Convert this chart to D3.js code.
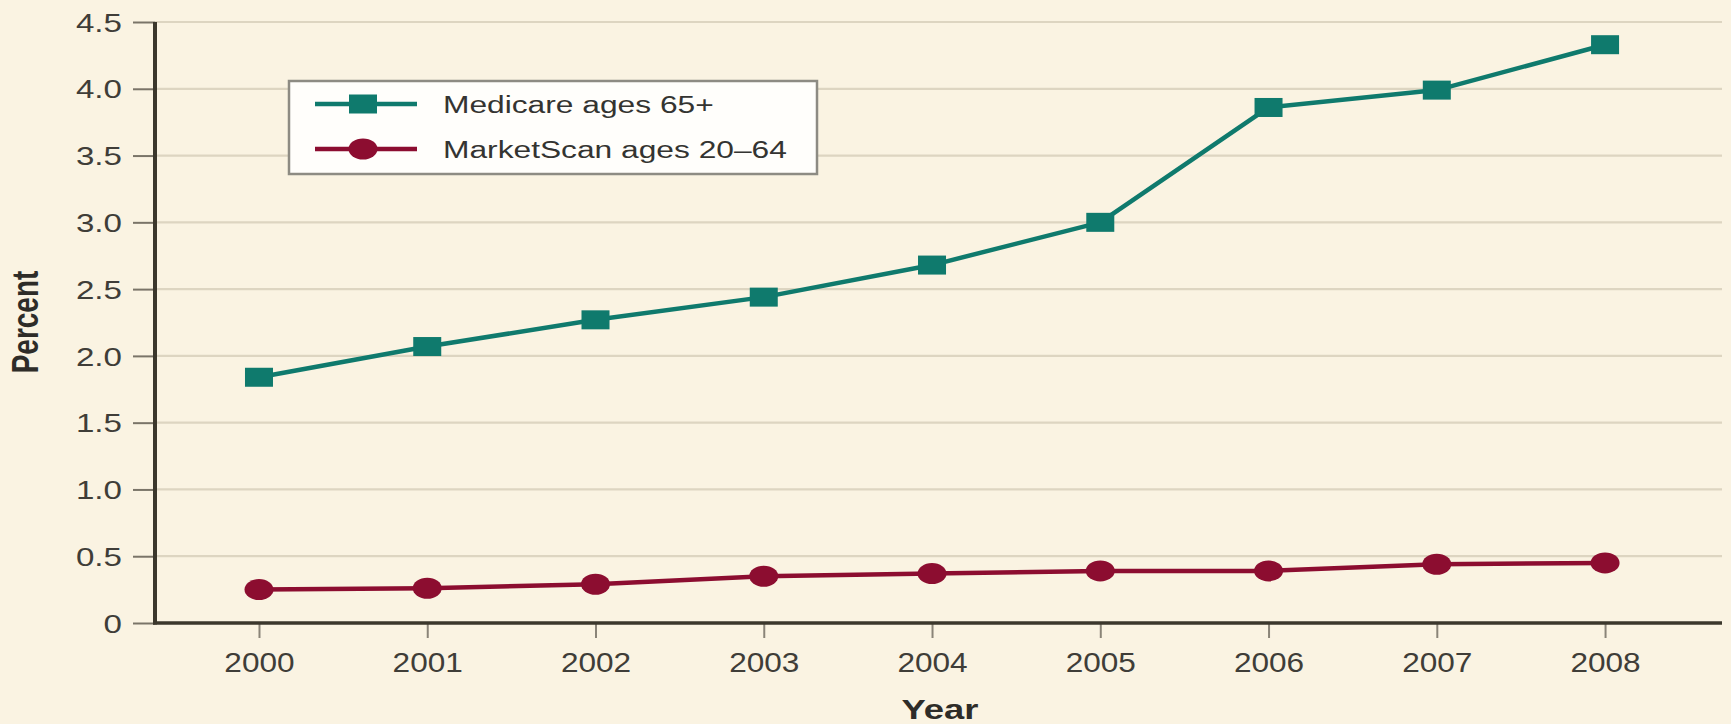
<!DOCTYPE html>
<html>
<head>
<meta charset="utf-8">
<script src="https://cdn.jsdelivr.net/npm/d3@7"></script>
<style>
  html, body { margin: 0; padding: 0; background: #faf3e2; }
  svg { display: block; }
</style>
</head>
<body>
<svg id="chart" width="1731" height="724"></svg>
<script>
// Share of patients (percent) by year, two populations
const years = [2000, 2001, 2002, 2003, 2004, 2005, 2006, 2007, 2008];
const medicare = [1.84, 2.07, 2.27, 2.44, 2.68, 3.00, 3.86, 3.99, 4.33];
const marketScan = [0.25, 0.26, 0.29, 0.35, 0.37, 0.39, 0.39, 0.44, 0.45];
const yTicks = [0, 0.5, 1.0, 1.5, 2.0, 2.5, 3.0, 3.5, 4.0, 4.5];
const seriesNames = ["Medicare ages 65+", "MarketScan ages 20\u201364"];

const TEAL = "#0f7a6d";
const RED = "#8c0d30";
const SX = 1.3; // horizontal widening applied to the lettering

const svg = d3.select("#chart");
const W = 1731, H = 724;
const plot = { left: 155, right: 1722, top: 22, bottom: 623 };

svg.append("rect").attr("width", W).attr("height", H).attr("fill", "#faf3e2");

const x = d3.scaleLinear().domain([1999.382, 2008.695]).range([plot.left, plot.right]);
const y = d3.scaleLinear().domain([0, 4.5]).range([plot.bottom, plot.top]);

// horizontal gridlines
svg.append("g").selectAll("line")
  .data(yTicks.filter(d => d > 0))
  .join("line")
  .attr("x1", plot.left).attr("x2", plot.right)
  .attr("y1", d => y(d)).attr("y2", d => y(d))
  .attr("stroke", "#ddd5c1").attr("stroke-width", 2.2);

// y axis
const yAxis = svg.append("g")
  .attr("transform", `translate(${plot.left},0)`)
  .call(d3.axisLeft(y).tickValues(yTicks).tickSize(22)
    .tickFormat(d => d === 0 ? "0" : d3.format(".1f")(d)));
yAxis.select(".domain").remove();
yAxis.selectAll(".tick line").attr("stroke", "#7a7468").attr("stroke-width", 2);
yAxis.selectAll(".tick text")
  .attr("x", -33 / SX).attr("dy", "0.36em")
  .attr("transform", `scale(${SX},1)`)
  .attr("fill", "#3f3d38")
  .style("font-family", "'Liberation Sans', Arial, sans-serif")
  .style("font-size", "25.5px");

// x axis
const xAxis = svg.append("g")
  .attr("transform", `translate(0,${plot.bottom})`)
  .call(d3.axisBottom(x).tickValues(years).tickSize(15).tickFormat(d3.format("d")));
xAxis.select(".domain").remove();
xAxis.selectAll(".tick line").attr("stroke", "#8a8478").attr("stroke-width", 2);
xAxis.selectAll(".tick text")
  .attr("y", 49).attr("dy", 0)
  .attr("transform", "scale(1.17,1)")
  .attr("fill", "#3f3d38")
  .style("font-family", "'Liberation Sans', Arial, sans-serif")
  .style("font-size", "27px");

// axis lines
svg.append("line")
  .attr("x1", plot.left).attr("x2", plot.left)
  .attr("y1", plot.top).attr("y2", plot.bottom + 1.5)
  .attr("stroke", "#3b372c").attr("stroke-width", 4);
svg.append("line")
  .attr("x1", plot.left - 2).attr("x2", plot.right)
  .attr("y1", plot.bottom).attr("y2", plot.bottom)
  .attr("stroke", "#3b372c").attr("stroke-width", 3.5);

// axis titles
svg.append("text")
  .attr("transform", `translate(38,322) scale(${SX},1) rotate(-90)`)
  .attr("text-anchor", "middle")
  .attr("fill", "#2e2c28")
  .style("font-family", "'Liberation Sans Narrow', 'Arial Narrow', 'Liberation Sans', sans-serif")
  .style("font-weight", "bold")
  .style("font-size", "28px")
  .text("Percent");

svg.append("text")
  .attr("transform", `translate(940,719) scale(${SX},1)`)
  .attr("text-anchor", "middle")
  .attr("fill", "#2e2c28")
  .style("font-family", "'Liberation Sans Narrow', 'Arial Narrow', 'Liberation Sans', sans-serif")
  .style("font-weight", "bold")
  .style("font-size", "28px")
  .text("Year");

// series lines and markers
const line = d3.line().x((d, i) => x(years[i])).y(d => y(d));

function drawSquare(g, cx, cy, color) {
  g.append("rect")
    .attr("x", cx - 14).attr("y", cy - 9.5)
    .attr("width", 28).attr("height", 19)
    .attr("fill", color);
}
function drawDot(g, cx, cy, color) {
  g.append("ellipse")
    .attr("cx", cx).attr("cy", cy)
    .attr("rx", 14.5).attr("ry", 10.5)
    .attr("fill", color);
}

const gMed = svg.append("g");
gMed.append("path").datum(medicare).attr("d", line)
  .attr("fill", "none").attr("stroke", TEAL).attr("stroke-width", 4.5)
  .attr("stroke-linejoin", "round");
medicare.forEach((v, i) => drawSquare(gMed, x(years[i]), y(v), TEAL));

const gMs = svg.append("g");
gMs.append("path").datum(marketScan).attr("d", line)
  .attr("fill", "none").attr("stroke", RED).attr("stroke-width", 4.5)
  .attr("stroke-linejoin", "round");
marketScan.forEach((v, i) => drawDot(gMs, x(years[i]), y(v), RED));

// legend
const legend = svg.append("g");
legend.append("rect")
  .attr("x", 289).attr("y", 81).attr("width", 528).attr("height", 93)
  .attr("fill", "#fffefb").attr("stroke", "#8d8b83").attr("stroke-width", 2.5);

const legendRows = [
  { name: seriesNames[0], color: TEAL, marker: drawSquare, cy: 104 },
  { name: seriesNames[1], color: RED, marker: drawDot, cy: 149 }
];
legendRows.forEach(r => {
  legend.append("line")
    .attr("x1", 315).attr("x2", 417).attr("y1", r.cy).attr("y2", r.cy)
    .attr("stroke", r.color).attr("stroke-width", 4.5);
  r.marker(legend, 363, r.cy, r.color);
  legend.append("text")
    .attr("transform", `translate(443,${r.cy + 8.5}) scale(1.38,1)`)
    .attr("fill", "#343431")
    .style("font-family", "'Liberation Sans', Arial, sans-serif")
    .style("font-size", "23px")
    .text(r.name);
});
</script>
</body>
</html>
